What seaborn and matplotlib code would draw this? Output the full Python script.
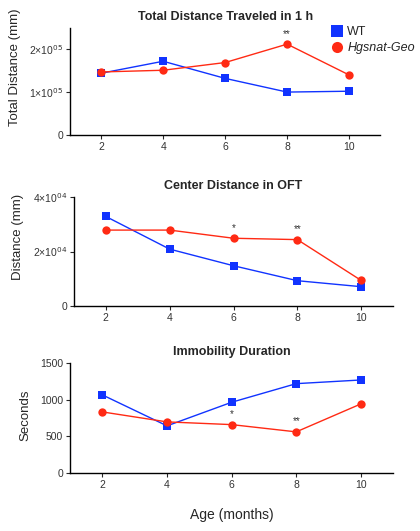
import matplotlib
matplotlib.use("Agg")
import matplotlib.pyplot as plt
import seaborn as sns
import pandas as pd

sns.set_style("ticks")
plt.rcParams['font.family'] = ['Liberation Sans', 'DejaVu Sans']

ages = [2, 4, 6, 8, 10]

# total distance traveled in 1 h (mm)
total_wt = [1.44e5, 1.72e5, 1.32e5, 1.00e5, 1.02e5]
total_geo = [1.47e5, 1.51e5, 1.69e5, 2.12e5, 1.40e5]
total_sig = {8: "**"}

# center distance in OFT (mm)
center_wt = [3.29e4, 2.09e4, 1.48e4, 0.93e4, 0.71e4]
center_geo = [2.79e4, 2.79e4, 2.49e4, 2.44e4, 0.94e4]
center_sig = {6: "*", 8: "**"}

# immobility duration (s)
immob_wt = [1067, 645, 967, 1221, 1271]
immob_geo = [835, 699, 662, 563, 944]
immob_sig = {6: "*", 8: "**"}

blue = "#1133ff"
red = "#ff2a14"

fig = plt.figure(figsize=(4.2, 5.31), dpi=100)
ax1 = fig.add_axes([0.167, 0.746, 0.738, 0.2015])
ax2 = fig.add_axes([0.176, 0.4237, 0.76, 0.205])
ax3 = fig.add_axes([0.167, 0.109, 0.769, 0.207])

panels = [
    (ax1, total_wt, total_geo, total_sig, "Total Distance Traveled in 1 h", "Total Distance (mm)",
     [0, 1e5, 2e5], ["0", "1×10$^{05}$", "2×10$^{05}$"], 2.5e5, (-0.16, 0.63)),
    (ax2, center_wt, center_geo, center_sig, "Center Distance in OFT", "Distance (mm)",
     [0, 2e4, 4e4], ["0", "2×10$^{04}$", "4×10$^{04}$"], 4e4, (-0.155, 0.63)),
    (ax3, immob_wt, immob_geo, immob_sig, "Immobility Duration", "Seconds",
     [0, 500, 1000, 1500], ["0", "500", "1000", "1500"], 1500, (-0.12, 0.53)),
]

for ax, wt, geo, sig, title, ylab, yt, ytl, ymax, lab_xy in panels:
    df = pd.DataFrame({"age": ages * 2, "val": wt + geo,
                       "group": ["WT"] * 5 + ["Hgsnat-Geo"] * 5})
    sns.lineplot(data=df, x="age", y="val", hue="group", style="group",
                 palette={"WT": blue, "Hgsnat-Geo": red},
                 markers={"WT": "s", "Hgsnat-Geo": "o"}, dashes=False,
                 markersize=6, linewidth=1, markeredgewidth=0, ax=ax,
                 legend=(ax is ax1))
    for a, s in sig.items():
        ax.annotate(s, (a, geo[ages.index(a)]), xytext=(0, 4), textcoords="offset points",
                    ha="center", va="bottom", fontsize=7, color="#333333")
    ax.set_xlim(1, 11)
    ax.set_ylim(0, ymax)
    ax.set_xticks(ages)
    ax.set_xticklabels([str(a) for a in ages], fontsize=7.5, color="#333333")
    ax.set_yticks(yt)
    ax.set_yticklabels(ytl, fontsize=7.5, color="#333333")
    ax.tick_params(length=3, width=0.8, pad=2)
    ax.set_title(title, fontsize=9, fontweight="bold", pad=6)
    ax.set_ylabel(ylab, fontsize=9.5)
    ax.yaxis.set_label_coords(*lab_xy)
    ax.set_xlabel("")
    sns.despine(ax=ax)
    for sp in ["left", "bottom"]:
        ax.spines[sp].set_linewidth(1)
        ax.spines[sp].set_color("black")

leg = ax1.legend(loc="upper left", bbox_to_anchor=(0.83, 1.06), frameon=False,
                 fontsize=9, handlelength=0.8, handletextpad=0.4, borderaxespad=0,
                 labelspacing=0.3)
for line in leg.get_lines():
    line.set_linestyle("none")
    line.set_markersize(8)
leg.get_texts()[1].set_fontstyle("italic")

ax3.set_xlabel("Age (months)", fontsize=10, labelpad=13)

fig.savefig("out.png", dpi=100)
